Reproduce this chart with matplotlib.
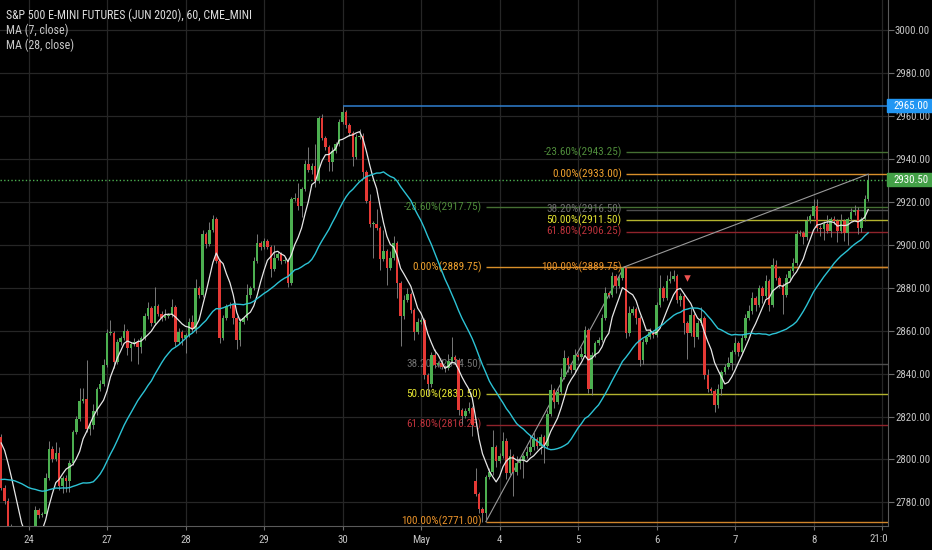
"""ES hourly chart (TradingView dark) with two fib retracements and two MAs"""

import numpy as np
import pandas as pd
import matplotlib
matplotlib.use("Agg")
from matplotlib import pyplot as plt
from matplotlib import font_manager
from matplotlib.patches import Rectangle
from matplotlib.ticker import FormatStrFormatter
from matplotlib.transforms import blended_transform_factory, Bbox, TransformedBbox

"""___Data read off the chart___"""
# closes before the left edge, only used to warm up the moving averages
prior_closes = [2778, 2775, 2772, 2776, 2780, 2779, 2783, 2785, 2782, 2786, 2788,
                2784, 2787, 2790, 2789, 2792, 2790, 2788, 2791, 2794, 2796,
                2805, 2810, 2814, 2816, 2812, 2810]

# hourly closes, one list per date label
closes_apr23 = [2786.9, 2780.6, 2769.0, 2767.5, 2766.0, 2762.0, 2760.0, 2758.0]
closes_apr24 = [2760.0, 2767.0, 2776.6, 2774.0, 2774.5, 2791.5, 2804.8, 2800.2, 2803.0,
                2787.6, 2791.5, 2790.0, 2798.6, 2812.7, 2819.0, 2827.5, 2828.3, 2814.2,
                2816.0, 2822.8, 2833.0, 2835.4, 2844.0]
closes_apr27 = [2858.9, 2859.0, 2845.5, 2854.9, 2856.5, 2860.0, 2851.8, 2854.0, 2855.0,
                2852.6, 2856.5, 2866.7, 2870.6, 2863.5, 2871.4, 2868.0, 2865.9, 2867.0,
                2867.5, 2871.0, 2854.9, 2859.6, 2856.5]
closes_apr28 = [2858.0, 2864.3, 2861.0, 2880.0, 2876.8, 2905.0, 2900.3, 2906.9, 2912.0,
                2892.5, 2856.5, 2865.9, 2871.4, 2872.1, 2866.0, 2855.7, 2864.3, 2866.0,
                2876.8, 2880.0, 2892.5, 2901.0, 2899.0]
closes_apr29 = [2901.9, 2899.0, 2889.0, 2894.0, 2895.6, 2892.5, 2893.0, 2882.3, 2921.4,
                2922.0, 2918.0, 2926.0, 2937.9, 2934.8, 2937.0, 2930.0, 2959.0, 2950.0,
                2945.7, 2938.7, 2944.0, 2947.0, 2957.4]
closes_apr30 = [2962.0, 2955.9, 2952.0, 2941.0, 2950.4, 2951.0, 2934.0, 2920.7, 2909.7,
                2910.0, 2908.0, 2893.3, 2897.2, 2889.4, 2894.0, 2901.0, 2882.3, 2866.7,
                2874.5, 2877.0, 2869.8, 2859.6, 2864.3]
closes_may1 = [2865.0, 2839.3, 2835.0, 2848.7, 2844.0, 2845.0, 2843.0, 2842.5, 2846.0,
               2847.9, 2846.3, 2822.9, 2820.5, 2822.5, 2824.0, 2816.0, 2784.0, 2777.0,
               2775.0, 2792.0, 2794.0, 2805.6, 2799.4]
closes_may4 = [2801.7, 2808.8, 2793.9, 2801.7, 2794.0, 2798.6, 2799.4, 2801.7, 2803.3,
               2805.6, 2809.5, 2806.4, 2810.3, 2806.4, 2821.3, 2832.2, 2826.8, 2831.5,
               2838.5, 2847.1, 2844.0, 2841.6, 2848.7]
closes_may5 = [2847.9, 2849.4, 2860.4, 2833.0, 2848.7, 2854.2, 2855.7, 2865.9, 2877.6,
               2876.8, 2885.5, 2880.8, 2884.7, 2889.4, 2858.8, 2868.5, 2870.0, 2866.0,
               2846.5, 2854.9, 2857.0, 2859.6, 2858.0]
closes_may6 = [2872.1, 2880.0, 2875.3, 2883.1, 2884.0, 2885.4, 2874.5, 2876.0, 2863.5,
               2858.8, 2867.5, 2857.3, 2863.5, 2865.9, 2839.3, 2833.0, 2832.0, 2825.2,
               2833.0, 2840.8, 2843.2, 2844.8, 2850.2]
closes_may7 = [2854.1, 2850.2, 2856.5, 2865.9, 2869.0, 2875.3, 2872.2, 2880.0, 2876.1,
               2883.1, 2872.0, 2890.9, 2884.7, 2881.5, 2876.8, 2884.7, 2887.8, 2891.7,
               2905.0, 2905.5, 2903.5, 2911.3, 2913.6]
closes_may8 = [2918.3, 2908.1, 2907.3, 2910.0, 2906.6, 2912.0, 2911.0, 2906.6, 2911.3,
               2905.8, 2912.0, 2915.2, 2916.5, 2908.1, 2912.0, 2921.4, 2930.5]

# wick lengths above / below the body, in points, same order as the closes
wick_up = [1.5, 1, 1.5, 1, 1, 1, 1, 1,
           1, 1, 1.5, 1, 1, 2, 4, 1.5, 5, 3, 1, 1.5, 1, 1, 1.5, 6, 5, 18, 1, 3, 1, 1.5, 3,
           2, 6, 1, 1.5, 1, 3, 1, 1, 1.5, 1, 1, 1.5, 3, 1, 9, 1, 1, 3, 1, 4, 1, 1.5, 1,
           1, 1.5, 3, 4, 1, 2, 1, 4, 2, 1, 1, 1.5, 1, 1.5, 1, 1, 1.5, 1, 5, 1, 2, 4, 1,
           1.5, 1, 1, 6, 1, 1, 1.5, 1, 1, 2, 7, 1, 1.5, 8, 1, 10, 1, 2, 1, 1, 1.5, 1, 1.5,
           3, 1, 1, 1, 1.5, 3, 1, 1, 3, 1, 7, 1, 10, 1, 3, 3, 1, 1, 2, 3, 1, 1, 1.5,
           1.5, 1, 1, 1.5, 3, 1, 2, 1, 3, 9, 1, 1, 1, 1.5, 3, 1, 6, 1, 1, 1, 2, 8, 1,
           1.5, 4, 1, 3, 1, 3, 1, 1, 3, 6, 4, 1, 1.5, 1, 2, 3, 1, 2, 4, 4, 1, 1, 3,
           1, 3, 2, 1, 1.5, 1, 1.5, 2, 3, 1, 2, 1, 1.5, 0.35, 1, 3, 1.5, 1, 1, 1.5, 1, 1.5, 1,
           1.5, 6, 1, 3, 4, 3, 1, 1.5, 1, 1, 3, 1, 1.5, 5, 1, 3, 1, 1, 2, 1, 1.5, 3, 1,
           3, 1, 2, 2, 3, 3, 1, 1.5, 1, 3, 1, 3, 2, 1, 1, 2, 1, 2, 2, 1.5, 1, 2, 1,
           3, 3, 1, 1, 4, 1, 1.5, 1, 3, 1, 1, 2, 2, 1, 1, 2, 2.5]
wick_dn = [1, 1.5, 1, 1, 1, 1, 1, 1,
           1, 1, 1, 1.5, 1, 1, 1, 1.5, 1, 2, 3, 5, 5, 1, 1, 1, 1, 1.5, 3, 2, 2, 1, 1,
           1, 1, 3, 1, 1.5, 1, 3, 6, 1, 8, 3, 1, 1, 1.5, 1, 1, 1.5, 1, 1, 1, 2, 1, 3,
           7, 1, 1.5, 2, 1.5, 1, 1.5, 1, 1, 1, 2, 1, 1, 1, 3, 4, 3, 1, 1, 1.5, 1, 1, 1.5,
           1, 1, 4, 1, 1, 1.5, 1, 2, 1, 1, 1.5, 5, 1, 1, 1.5, 3, 1, 1, 1.5, 4, 4, 1, 1,
           1, 1.5, 1, 4, 1, 1, 3, 1, 1.5, 16, 1, 5, 1, 8, 1, 1, 7, 14, 1, 1, 1.5, 4, 1,
           1, 2, 5, 1, 1.5, 1, 1, 1.5, 1, 1, 1, 2, 4, 1, 1, 5, 1, 2, 4, 4, 1, 1, 3,
           1, 1, 3, 1, 11, 1, 3, 8, 1, 1, 1, 1.5, 4, 8, 1, 1, 3, 1, 1, 1, 3, 1.5, 1,
           1.5, 1, 1, 2, 3, 1, 1, 1, 1, 1.5, 1, 3, 1, 1, 2, 1, 1, 3, 3, 2, 1, 1, 1.5,
           1, 1, 1.5, 1, 1, 1, 1.5, 3, 5, 12, 1, 5, 1, 1, 2, 1.5, 1, 3, 1, 3, 1, 1, 3,
           1, 2, 1, 1, 1, 1, 3, 1, 3, 1, 3, 1, 1, 1.5, 9, 1, 1, 1, 1, 1, 3, 1, 1,
           1, 1.5, 3, 5, 1, 3, 1, 5, 1, 4, 6, 1, 1, 3, 2, 1, 1]

first_open = 2810.3
gap_bar, gap_open = 139, 2790.0   # Sunday re-open after the May 1 close

# date labels sit on the first bar of each calendar day
day_ticks = [8, 31, 54, 77, 100, 123, 146, 169, 192, 215, 238]
day_labels = ["24", "27", "28", "29", "30", "May", "4", "5", "6", "7", "8"]
last_tick, last_label = 258, "21:00"

# fib retracements: (start bar, levels, prices)
fib_levels = [-0.236, 0.0, 0.382, 0.5, 0.618, 1.0]
fib1_start = 142
fib1_prices = [2917.75, 2889.75, 2844.50, 2830.50, 2816.25, 2771.00]
fib2_start = 183
fib2_prices = [2943.25, 2933.00, 2916.50, 2911.50, 2906.25, 2889.75]
fib1_trend = ([142, 182.5], [2771.00, 2889.75])
fib2_trend = ([182.5, 254], [2889.75, 2933.00])

high_bar, high_price = 100, 2965.0
last_price = 2930.5
signal_bar, signal_price = [201], [2884.5]

"""___Styling___"""
installed = {f.name for f in font_manager.fontManager.ttflist}
NARROW = next((n for n in ["Liberation Sans Narrow", "Roboto Condensed", "DejaVu Sans"]
               if n in installed), "DejaVu Sans")
plt.rcParams["font.family"] = [NARROW, "DejaVu Sans"]

GREEN, RED, WICK = "#4caf50", "#e53935", "#808080"
TEXT = "#c4c4c4"
level_text = {-0.236: "#4f8c3b", 0.0: "#f0a22e", 0.382: "#707070",
              0.5: "#e6e632", 0.618: "#bb323b", 1.0: "#e9922a"}
level_line = {-0.236: "#456f33", 0.0: "#d98f2a", 0.382: "#4e4e4e",
              0.5: "#b3b32e", 0.618: "#8f232b", 1.0: "#d0842a"}

W, H, DPI = 932, 550, 100
PLOT_R, PLOT_B = 888, 526

"""___Build OHLC___"""
closes = np.array(closes_apr23 + closes_apr24 + closes_apr27 + closes_apr28 + closes_apr29
                  + closes_apr30 + closes_may1 + closes_may4 + closes_may5 + closes_may6
                  + closes_may7 + closes_may8)
opens = np.concatenate([[first_open], closes[:-1]])
opens[gap_bar] = gap_open
highs = np.maximum(opens, closes) + np.array(wick_up)
lows = np.minimum(opens, closes) - np.array(wick_dn)

series = pd.Series(prior_closes + list(closes))
ma7 = series.rolling(7).mean().to_numpy()[len(prior_closes):]
ma28 = series.rolling(28).mean().to_numpy()[len(prior_closes):]

"""___Figure___"""
fig = plt.figure(figsize=(W / DPI, H / DPI), dpi=DPI, facecolor="black")
ax = fig.add_axes([0, (H - PLOT_B) / H, PLOT_R / W, PLOT_B / H], facecolor="black")
yx = blended_transform_factory(ax.transAxes, ax.transData)

x = np.arange(len(closes))
rising = closes >= opens
ax.vlines(x, lows, highs, colors=WICK, lw=0.65, zorder=3)
ax.bar(x, np.maximum(np.abs(closes - opens), 0.35), 0.74,
       bottom=np.minimum(opens, closes), color=np.where(rising, GREEN, RED),
       lw=0, zorder=4)

ax.plot(x, ma7, color="#e6e6e6", lw=0.9, zorder=5)
ax.plot(x, ma28, color="#2cc3d5", lw=1.0, zorder=5)

# fib levels, labels sit left of where the levels start
for start, prices in [(fib1_start, fib1_prices), (fib2_start, fib2_prices)]:
    for lvl, price in zip(fib_levels, prices):
        ax.hlines(price, start, 270, color=level_line[lvl], lw=1, zorder=2)
        ax.text(start - 1.2, price, f"{lvl * 100:.2f}%({price:.2f})", ha="right",
                va="center", color=level_text[lvl], fontsize=8.0, zorder=2)
for bars, prices in [fib1_trend, fib2_trend]:
    ax.plot(bars, prices, color="#9a9a9a", lw=0.8, zorder=2.5)

ax.hlines(high_price, high_bar, 270, color="#2f7fd0", lw=1.1, zorder=2)
ax.axhline(last_price, color="#4caf50", lw=1, ls=(0, (1, 1.6)), zorder=2)
ax.scatter(signal_bar, signal_price, marker="v", s=22, color="#ef5350", lw=0, zorder=6)

# axes
ax.set_xlim(-0.35, 259.8)
ax.set_ylim(2769.0, 3014.2)
ax.set_xticks(day_ticks + [last_tick])
ax.set_xticklabels(day_labels + [""])
ax.set_yticks(np.arange(2780, 3001, 20))
ax.yaxis.set_major_formatter(FormatStrFormatter("%.2f"))
ax.yaxis.tick_right()
ax.tick_params(axis="y", length=4, width=0.8, color="#6a6a6a", labelcolor=TEXT,
               labelsize=7.8, pad=1)
ax.tick_params(axis="x", length=3, width=0.8, color="#6a6a6a", labelcolor=TEXT,
               labelsize=7.8, pad=3.6)
ax.grid(color="#262626", lw=0.9)
ax.set_axisbelow(True)
for side in ["top", "left"]:
    ax.spines[side].set_visible(False)
for side in ["right", "bottom"]:
    ax.spines[side].set_color("#5a5a5a")

# the 21:00 label runs under the price scale
t = ax.text(last_tick, -7.5 / PLOT_B, last_label, transform=blended_transform_factory(
    ax.transData, ax.transAxes), ha="center", va="top", color=TEXT, fontsize=7.8)
t.set_clip_box(TransformedBbox(Bbox([[0, 0], [PLOT_R / W, 1]]), fig.transFigure))
t.set_clip_on(True)

# price tags on the scale
for price, colour in [(high_price, "#2196f3"), (last_price, "#43a047")]:
    ax.add_patch(Rectangle((1 - 1.5 / PLOT_R, price - 3.2), 46 / PLOT_R, 6.4,
                           transform=yx, color=colour, clip_on=False, zorder=10))
    ax.text(1 + 5.5 / PLOT_R, price, f"{price:.2f}", transform=yx, ha="left",
            va="center", color="white", fontsize=7.8, clip_on=False, zorder=11)

# legend lines top-left
fig.text(6 / W, 1 - 15 / H, "S&P 500 E-MINI FUTURES (JUN 2020), 60, CME_MINI",
         color="#dcdcdc", fontsize=8.6, va="center")
fig.text(6 / W, 1 - 30.5 / H, "MA (7, close)", color="#c8c8c8", fontsize=8.6, va="center")
fig.text(6 / W, 1 - 45.5 / H, "MA (28, close)", color="#c8c8c8", fontsize=8.6, va="center")

fig.savefig("out.png", dpi=DPI, facecolor="black")
